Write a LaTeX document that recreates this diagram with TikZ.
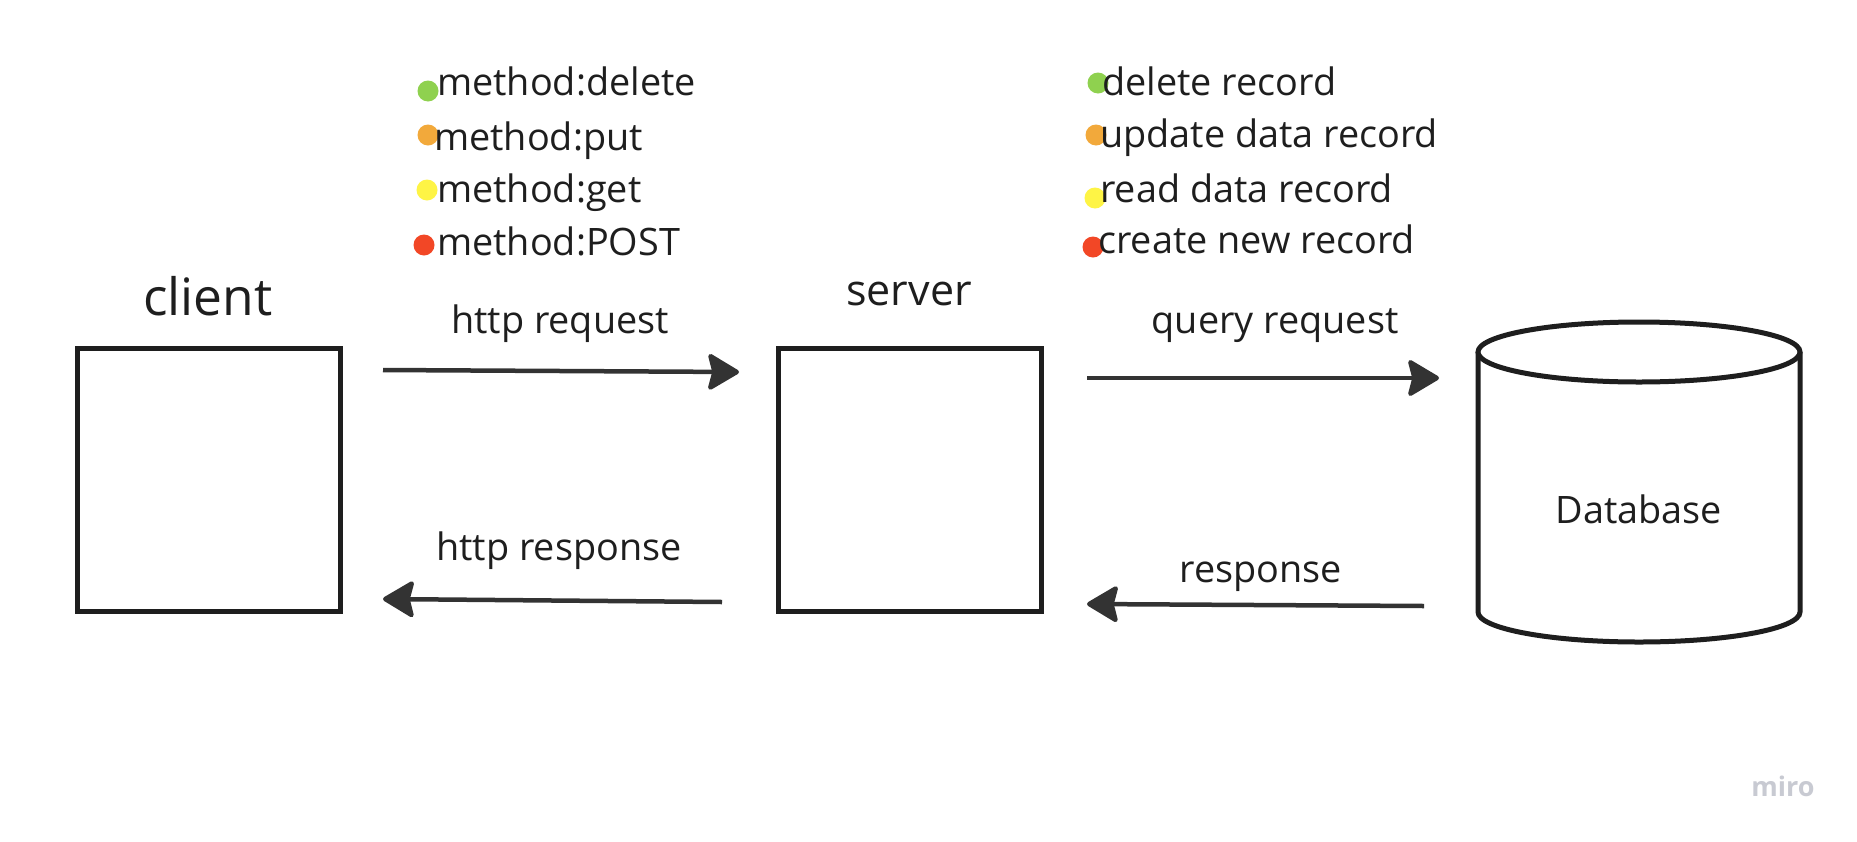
\documentclass[tikz,border=0pt]{standalone}
\usepackage{fontspec}
\setmainfont{Open Sans}
\usetikzlibrary{arrows.meta}
\definecolor{ink}{HTML}{1E1E1E}
\definecolor{arrowc}{HTML}{333333}
\definecolor{mgreen}{HTML}{8FD14F}
\definecolor{morange}{HTML}{F2A93B}
\definecolor{myellow}{HTML}{FEF445}
\definecolor{mred}{HTML}{F24726}
\definecolor{mirogray}{HTML}{C8CAD2}
\tikzset{
  boxnode/.style={draw=ink, line width=5pt, minimum width=263pt, minimum height=263pt, inner sep=0pt},
  conn/.style={draw=arrowc, line width=4.5pt, -{Stealth[length=34pt, width=40pt, inset=5pt, round]}},
  lbl/.style={inner sep=0pt, text=ink, font=\fontsize{37.8}{42}\selectfont},
  item/.style={inner sep=0pt, anchor=base west, text=ink, font=\fontsize{37.8}{42}\selectfont},
  dot/.style={circle, inner sep=0pt, minimum size=21pt},
}
\begin{document}
\begin{tikzpicture}[x=1pt, y=-1pt]
\useasboundingbox[fill=white] (0,0) rectangle (1857,841);

% boxes
\node[boxnode] (client) at (209,480) {};
\node[boxnode] (server) at (910,480) {};

% database cylinder
\draw[ink, line width=5pt] (1478,352) -- (1478,612)
  arc[start angle=180, end angle=360, x radius=161pt, y radius=30pt] -- (1800,352);
\draw[ink, line width=5pt, fill=white] (1639,352) ellipse [x radius=161pt, y radius=30pt];
\node[lbl, anchor=base] (db) at (1639,523) {Database};

% titles
\node[inner sep=0pt, anchor=base, text=ink, font=\fontsize{51.5}{56}\selectfont] (clientlbl) at (208,315) {client};
\node[inner sep=0pt, anchor=base, text=ink, font=\fontsize{43}{48}\selectfont] (serverlbl) at (909,305) {server};

% connectors
\coordinate (reqS) at (383,370);
\coordinate (reqE) at (739,372);
\coordinate (resS) at (722,602);
\coordinate (resE) at (383,599);
\coordinate (qS) at (1087,378);
\coordinate (qE) at (1439,378);
\coordinate (rS) at (1424,606);
\coordinate (rE) at (1087,604);
\draw[conn] (reqS) -- (reqE);
\draw[conn] (resS) -- (resE);
\draw[conn] (qS) -- (qE);
\draw[conn] (rS) -- (rE);

\node[lbl, anchor=base] (l1) at (560,333) {http request};
\node[lbl, anchor=base] (l2) at (559,560) {http response};
\node[lbl, anchor=base] (l3) at (1275,333) {query request};
\node[lbl, anchor=base] (l4) at (1261,582) {response};

% left list
\node[dot, fill=mgreen] (d1) at (428,91) {};
\node[dot, fill=morange] (d2) at (428,135) {};
\node[dot, fill=myellow] (d3) at (427,190) {};
\node[dot, fill=mred] (d4) at (424,245) {};
\node[item] (m1) at (437,95) {method:delete};
\node[item] (m2) at (434,150) {method:put};
\node[item] (m3) at (437,202) {method:get};
\node[item] (m4) at (437,255) {method:POST};

% right list
\node[dot, fill=mgreen] (e1) at (1098,83) {};
\node[dot, fill=morange] (e2) at (1096,135) {};
\node[dot, fill=myellow] (e3) at (1095,198) {};
\node[dot, fill=mred] (e4) at (1093,247) {};
\node[item] (r1) at (1102,95) {delete record};
\node[item] (r2) at (1100,147) {update data record};
\node[item] (r3) at (1100,202) {read data record};
\node[item] (r4) at (1098,253) {create new record};

% watermark
\node[inner sep=0pt, anchor=base, text=mirogray, font=\bfseries\fontsize{27}{30}\selectfont] (miro) at (1783,796) {miro};
\end{tikzpicture}
\end{document}
